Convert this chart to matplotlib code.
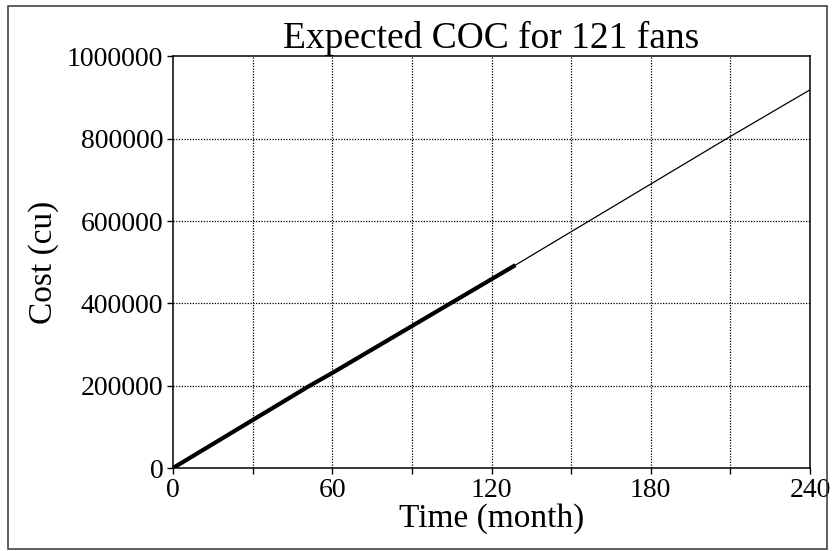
import matplotlib
matplotlib.use("Agg")
import matplotlib.pyplot as plt
import matplotlib.patches as patches

# values
months_all = [0, 60, 129, 180, 208.5, 240]
cost_all = [0, 231000, 493000, 690000, 800000, 919000]
months_sim = [0, 51.5, 60, 129]
cost_sim = [0, 200000, 231000, 493000]

x_major = [0, 60, 120, 180, 240]
x_minor = [30, 90, 150, 210]
y_ticks = [0, 200000, 400000, 600000, 800000, 1000000]

def main():
  plt.rcParams['font.family'] = 'Liberation Serif'
  plt.rcParams['font.size'] = 20

  fig = plt.figure(figsize=(8.33, 5.51), dpi=100)
  ax = fig.add_axes([0.2077, 0.1506, 0.7647, 0.7469])

  ax.plot(months_all, cost_all, color="black", linewidth=0.9)
  ax.plot(months_sim, cost_sim, color="black", linewidth=3.0, solid_capstyle="butt")

  ax.set_xlim(0, 240)
  ax.set_ylim(0, 1000000)
  ax.set_xticks(x_major)
  ax.set_xticks(x_minor, minor=True)
  ax.set_yticks(y_ticks)
  ax.set_yticklabels([str(v) for v in y_ticks])

  for v in x_major[1:-1] + x_minor:
    ax.axvline(v, color="black", linestyle=(0, (1, 1.2)), linewidth=0.9)
  for v in y_ticks[1:-1]:
    ax.axhline(v, color="black", linestyle=(0, (1, 1.2)), linewidth=0.9)

  ax.tick_params(which="both", direction="out", length=4, width=1, pad=3)
  ax.tick_params(axis="both", labelsize=20)
  for s in ax.spines.values():
    s.set_linewidth(1.1)

  ax.set_title("Expected COC for 121 fans", fontsize=27, pad=3)
  ax.set_xlabel("Time (month)", fontsize=24, labelpad=0)
  ax.set_ylabel("Cost (cu)", fontsize=24, labelpad=6)

  fig.patches.append(patches.Rectangle((8/833, 1-549/551), 819/833, 543/551,
                                       transform=fig.transFigure, fill=False,
                                       edgecolor="#444444", linewidth=1.2))

  fig.savefig("out.png", dpi=100)

if __name__ == "__main__":
  main()
